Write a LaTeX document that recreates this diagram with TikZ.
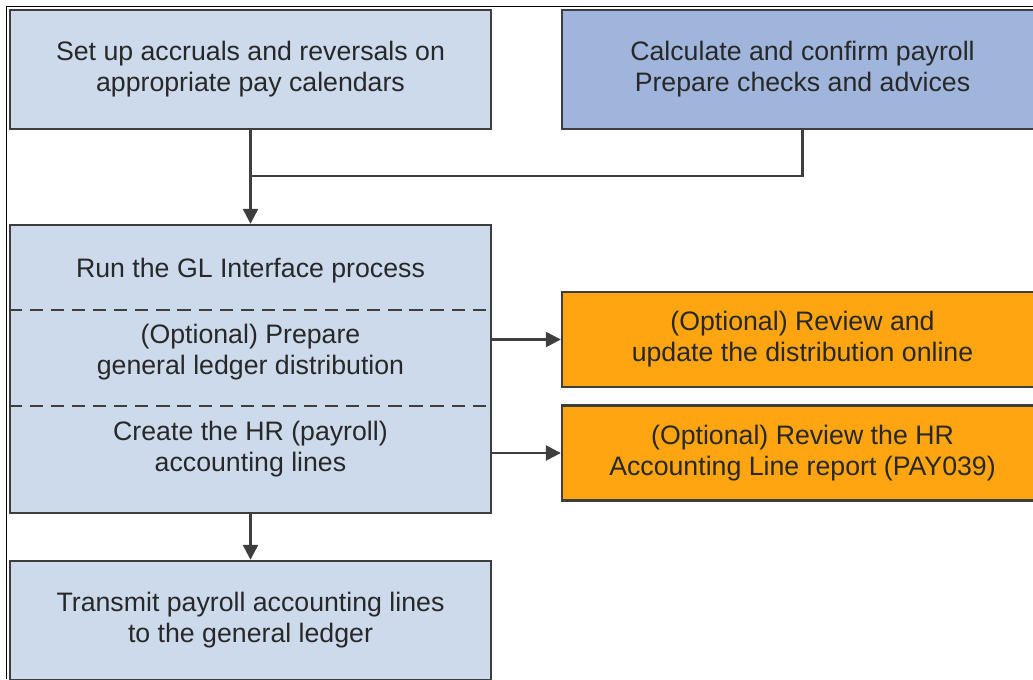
\documentclass[tikz,border=0pt]{standalone}
\usepackage{fontspec}
\setmainfont{Liberation Sans}
\usetikzlibrary{arrows.meta,positioning}
\definecolor{paleblue}{RGB}{205,218,236}
\definecolor{midblue}{RGB}{160,181,219}
\definecolor{optorange}{RGB}{254,165,17}
\definecolor{edgegray}{RGB}{62,62,62}
\definecolor{textgray}{RGB}{40,40,40}

\tikzset{
  stepbox/.style={draw=edgegray, line width=1.4pt, fill=paleblue, minimum width=9.62cm, minimum height=2.38cm, align=center, text=textgray, font=\fontsize{15.2}{17.6}\selectfont, inner sep=0pt},
  optbox/.style={stepbox, fill=optorange, minimum height=1.9cm},
  flow/.style={draw=edgegray, line width=1.4pt, -{Triangle[length=8.5pt,width=8.5pt]}},
  plain/.style={draw=edgegray, line width=1.4pt},
  sect/.style={align=center, text=textgray, font=\fontsize{15.2}{17.6}\selectfont, inner sep=0pt}
}

\begin{document}
\begin{tikzpicture}[x=0.02cm, y=-0.02cm]
    \useasboundingbox (0,0) rectangle (1033,679);
    % outer frame (only top and left edges show)
    \draw[black, line width=0.45pt] (6,679) -- (6,6) -- (1033,6);

    % top row
    \node[stepbox] (accruals) at (250.5,69.5) {Set up accruals and reversals on\\appropriate pay calendars};
    \node[stepbox, fill=midblue] (calc) at (802.5,69.5) {Calculate and confirm payroll\\Prepare checks and advices};

    % GL interface block
    \node[stepbox, minimum height=5.76cm] (glproc) at (250.5,369) {};
    \node[sect] (runGL) at (250.5,271) {Run the GL Interface process};
    \node[sect] (prepDist) at (250.5,352.5) {(Optional) Prepare\\general ledger distribution};
    \node[sect] (hrLines) at (250.5,449) {Create the HR (payroll)\\accounting lines};
    \draw[plain, dashed, dash pattern=on 7.5pt off 4.5pt] (glproc.west |- 0,310) -- (glproc.east |- 0,310);
    \draw[plain, dashed, dash pattern=on 7.5pt off 4.5pt] (glproc.west |- 0,406) -- (glproc.east |- 0,406);

    % optional review boxes
    \node[optbox] (reviewDist) at (802.5,339.5) {(Optional) Review and\\update the distribution online};
    \node[optbox] (reviewHR) at (802.5,453) {(Optional) Review the HR\\Accounting Line report (PAY039)};

    % transmit
    \node[stepbox] (transmit) at (250.5,620.5) {Transmit payroll accounting lines\\to the general ledger};

    % connectors
    \coordinate (join) at (accruals.south |- 0,176);
    \draw[plain] (calc.south) |- (join);
    \draw[flow] (accruals.south) -- (glproc.north);
    \draw[flow] (glproc.east |- reviewDist.west) -- (reviewDist.west);
    \draw[flow] (glproc.east |- reviewHR.west) -- (reviewHR.west);
    \draw[flow] (glproc.south) -- (transmit.north);
\end{tikzpicture}
\end{document}
